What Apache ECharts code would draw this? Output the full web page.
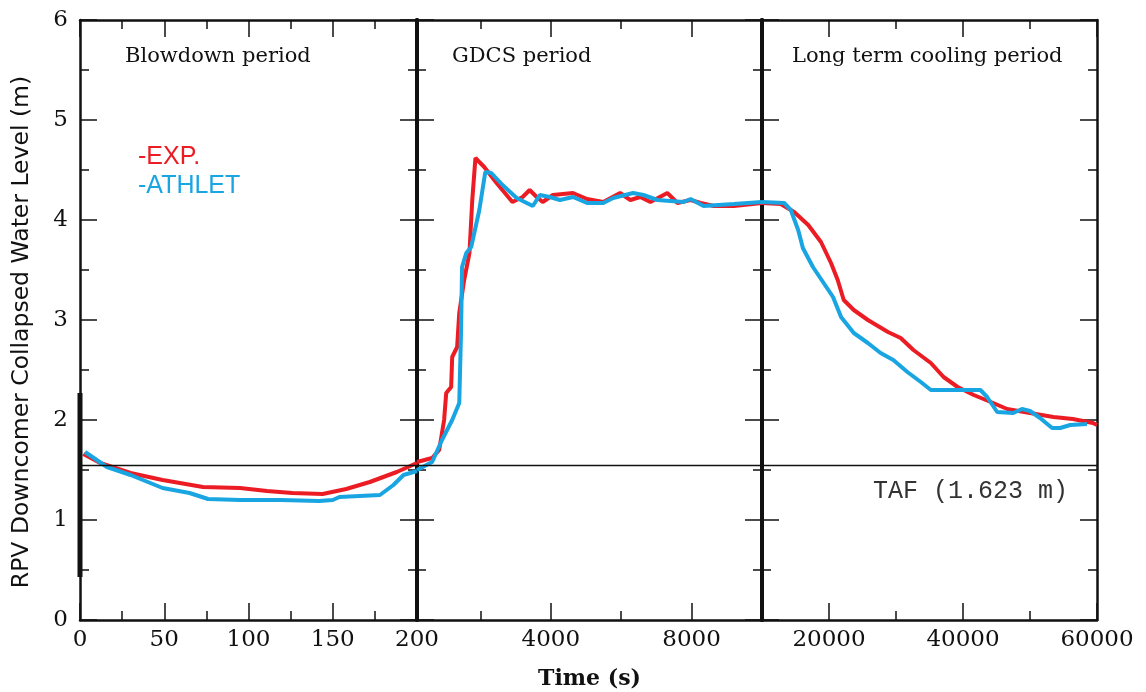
<!DOCTYPE html>
<html>
<head>
<meta charset="utf-8">
<script src="https://cdn.jsdelivr.net/npm/echarts@6/dist/echarts.min.js"></script>
<style>
  html, body { margin: 0; padding: 0; background: #fff; }
  #chart { width: 1146px; height: 692px; }
</style>
</head>
<body>
<div id="chart"></div>
<script>
// panel ranges (s)
const panelRanges = [[0, 200], [200, 10000], [10000, 60000]];
const panelTitles = ['Blowdown period', 'GDCS period', 'Long term cooling period'];
const majorTicks = [[0, 50, 100, 150, 200], [4000, 8000], [20000, 40000, 60000]];
const minorTicks = [[25, 75, 125, 175], [2000, 6000], [30000, 50000]];
const tickLabels = [[0, 50, 100, 150, 200], [4000, 8000], [20000, 40000, 60000]];
const tafLevel = 1.55;

// EXP. (red)
const expBlowdown = [[2,1.66],[12,1.57],[30,1.47],[49,1.40],[73,1.33],[95,1.32],[111,1.29],[126,1.27],[144,1.26],[158,1.31],[172,1.38],[188,1.48],[200,1.57]];
const expGdcs = [[200,1.58],[630,1.62],[830,1.70],[970,2.00],[1030,2.27],[1170,2.33],[1200,2.63],[1340,2.73],[1400,3.07],[1540,3.40],[1690,3.67],[1770,4.20],[1860,4.62],[1970,4.58],[2110,4.53],[2460,4.37],[2910,4.18],[3200,4.23],[3400,4.30],[3600,4.23],[3770,4.18],[4060,4.25],[4630,4.27],[5030,4.21],[5490,4.18],[5970,4.27],[6260,4.20],[6540,4.23],[6830,4.18],[7310,4.27],[7600,4.17],[7970,4.20],[8260,4.17],[8630,4.14],[9200,4.14],[10000,4.17]];
const expLongTerm = [[10000,4.17],[12800,4.16],[14800,4.08],[16900,3.95],[18800,3.78],[20300,3.57],[21300,3.40],[22200,3.20],[23700,3.10],[25800,3.00],[28800,2.88],[30700,2.82],[32600,2.70],[35200,2.57],[37100,2.43],[39200,2.33],[41600,2.25],[44500,2.17],[46600,2.11],[50000,2.07],[53500,2.03],[56400,2.01],[59400,1.97],[60000,1.95]];

// ATHLET (blue)
const athletBlowdown = [[3,1.68],[16,1.53],[30,1.45],[49,1.32],[65,1.27],[76,1.21],[95,1.20],[119,1.20],[142,1.19],[150,1.20],[154,1.23],[178,1.25],[186,1.35],[192,1.45],[200,1.49]];
const athletGdcs = [[200,1.50],[630,1.58],[910,1.80],[1200,2.00],[1400,2.17],[1450,2.87],[1480,3.53],[1600,3.67],[1740,3.73],[1970,4.10],[2140,4.48],[2310,4.47],[2630,4.35],[3030,4.22],[3490,4.14],[3690,4.25],[3970,4.23],[4260,4.20],[4630,4.23],[5030,4.17],[5490,4.17],[5770,4.22],[6340,4.27],[6630,4.25],[7030,4.20],[7770,4.18],[7970,4.21],[8340,4.14],[9200,4.16],[10000,4.18]];
const athletLongTerm = [[10000,4.18],[13300,4.17],[14300,4.10],[15400,3.90],[16100,3.72],[17600,3.53],[19200,3.37],[20600,3.23],[21800,3.03],[23700,2.87],[25800,2.77],[27700,2.67],[29600,2.60],[31700,2.48],[33700,2.38],[35200,2.30],[42600,2.30],[43600,2.23],[45100,2.08],[47500,2.07],[48800,2.11],[50000,2.09],[51500,2.02],[53300,1.92],[54500,1.92],[56000,1.95],[58500,1.96]];

const expData = [expBlowdown, expGdcs, expLongTerm];
const athletData = [athletBlowdown, athletGdcs, athletLongTerm];

const RED = '#ec1c24';
const BLUE = '#18a5e2';
const INK = '#111';

const gridBox = [[80, 417], [417, 762], [762, 1097]];
const grids = gridBox.map(b => ({
  left: b[0], width: b[1] - b[0], top: 20, height: 600,
  outerBoundsMode: 'none', containLabel: false
}));

const labelFont = { fontFamily: 'DejaVu Serif', fontSize: 23, color: INK };

const xAxes = [];
const yAxes = [];
const series = [];
for (let i = 0; i < 3; i++) {
  const [mn, mx] = panelRanges[i];
  ['bottom', 'top'].forEach(pos => {
    // major ticks + frame line
    xAxes.push({
      gridIndex: i, type: 'value', min: mn, max: mx, position: pos,
      axisLine: { show: true, onZero: false, lineStyle: { color: INK, width: 2.5 } },
      axisTick: { show: true, inside: true, length: 17, customValues: majorTicks[i], lineStyle: { color: INK, width: 1.5 } },
      axisLabel: pos === 'bottom'
        ? Object.assign({ show: true, margin: 9, customValues: tickLabels[i], formatter: v => String(v) }, labelFont)
        : { show: false },
      splitLine: { show: false },
      name: (pos === 'bottom' && i === 1) ? 'Time (s)' : '',
      nameLocation: 'middle', nameGap: 48,
      nameTextStyle: { fontFamily: 'DejaVu Serif', fontWeight: 'bold', fontSize: 22, color: INK }
    });
    // minor ticks
    xAxes.push({
      gridIndex: i, type: 'value', min: mn, max: mx, position: pos,
      axisLine: { show: false, onZero: false },
      axisTick: { show: true, inside: true, length: 9, customValues: minorTicks[i], lineStyle: { color: INK, width: 1.5 } },
      axisLabel: { show: false }, splitLine: { show: false }
    });
  });
  ['left', 'right'].forEach(pos => {
    const outer = (i === 0 && pos === 'left') || (i === 2 && pos === 'right');
    yAxes.push({
      gridIndex: i, type: 'value', min: 0, max: 6, interval: 1, position: pos,
      axisLine: { show: true, onZero: false, lineStyle: { color: INK, width: outer ? 2.5 : 4 } },
      axisTick: { show: true, inside: true, length: 17, lineStyle: { color: INK, width: 1.5 } },
      minorTick: { show: true, splitNumber: 2, length: 9, lineStyle: { color: INK, width: 1.5 } },
      axisLabel: (i === 0 && pos === 'left') ? Object.assign({ show: true, margin: 12 }, labelFont) : { show: false },
      splitLine: { show: false },
      name: (i === 0 && pos === 'left') ? 'RPV Downcomer Collapsed Water Level (m)' : '',
      nameLocation: 'middle', nameRotate: 90, nameGap: 46,
      nameTextStyle: { fontFamily: 'DejaVu Sans', fontSize: 23.5, color: INK, padding: [0, 24, 0, 0] }
    });
  });
  const xi = i * 4;
  const yi = i * 2;
  series.push({
    name: 'EXP.', type: 'line', xAxisIndex: xi, yAxisIndex: yi,
    data: expData[i], showSymbol: false, symbol: 'none',
    lineStyle: { color: RED, width: 4 }, itemStyle: { color: RED }, z: 3,
    markLine: {
      silent: true, symbol: 'none', label: { show: false },
      lineStyle: { color: INK, width: 1.3, type: 'solid' },
      data: [{ yAxis: tafLevel }]
    }
  });
  series.push({
    name: 'ATHLET', type: 'line', xAxisIndex: xi, yAxisIndex: yi,
    data: athletData[i], showSymbol: false, symbol: 'none',
    lineStyle: { color: BLUE, width: 4 }, itemStyle: { color: BLUE }, z: 4
  });
}

const titleX = [125, 452, 792];
const graphics = panelTitles.map((t, i) => ({
  type: 'text', left: titleX[i], top: 46,
  style: { text: t, fontFamily: 'DejaVu Serif', fontSize: 21, fill: INK }
}));
graphics.push({
  type: 'text', left: 873, top: 479,
  style: { text: 'TAF (1.623 m)', fontFamily: 'Liberation Mono', fontSize: 25, fill: '#333' }
});
graphics.push({
  type: 'line', shape: { x1: 80, y1: 393, x2: 80, y2: 577 },
  style: { stroke: INK, lineWidth: 5 }, z: 10
});

const chart = echarts.init(document.getElementById('chart'), null, { renderer: 'canvas' });
chart.setOption({
  backgroundColor: '#fff',
  animation: false,
  grid: grids,
  xAxis: xAxes,
  yAxis: yAxes,
  legend: {
    orient: 'vertical', left: 128, top: 140,
    icon: 'rect', itemWidth: 0, itemHeight: 0, itemGap: 4,
    formatter: n => '-' + n,
    textStyle: { fontFamily: 'Liberation Sans', fontSize: 25 },
    data: [
      { name: 'EXP.', textStyle: { color: RED } },
      { name: 'ATHLET', textStyle: { color: BLUE } }
    ],
    selectedMode: false
  },
  graphic: graphics,
  series: series
});
</script>
</body>
</html>
